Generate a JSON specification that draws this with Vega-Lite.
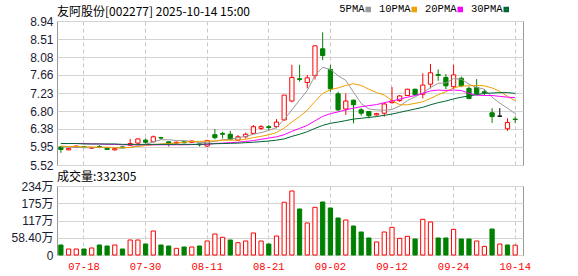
{
  "$schema": "https://vega.github.io/schema/vega-lite/v6.json",
  "background": "white",
  "padding": {"left": 10, "top": 4, "right": 0, "bottom": 0},
  "config": {
    "view": {"stroke": "#999999", "strokeWidth": 1},
    "axis": {"ticks": false, "domain": false, "title": null, "labelOverlap": false, "labelFont": "Liberation Sans, Noto Sans CJK SC", "labelFontSize": 12, "labelColor": "#1a1a33", "gridColor": "#d4d4d4"},
    "concat": {"spacing": -2},
    "title": {"anchor": "start", "frame": "group", "font": "Noto Sans CJK SC", "fontSize": 12, "fontWeight": "normal", "color": "#000000"}
  },
  "datasets": {
    "k": [
      {"date":"07-15","open":5.95,"high":5.96,"low":5.81,"close":5.89,"vol":33.9,"vd":"down","5PMA":5.95,"10PMA":5.97,"20PMA":6.03,"30PMA":6.03},
      {"date":"07-16","open":5.88,"high":5.92,"low":5.87,"close":5.91,"vol":20.3,"vd":"up","5PMA":5.94,"10PMA":5.96,"20PMA":6.03,"30PMA":6.03},
      {"date":"07-17","open":5.94,"high":5.98,"low":5.93,"close":5.97,"vol":20.3,"vd":"up","5PMA":5.94,"10PMA":5.96,"20PMA":6.03,"30PMA":6.03},
      {"date":"07-18","open":5.96,"high":5.97,"low":5.93,"close":5.95,"vol":20.3,"vd":"down","5PMA":5.93,"10PMA":5.95,"20PMA":6.03,"30PMA":6.02},
      {"date":"07-21","open":5.92,"high":5.95,"low":5.90,"close":5.93,"vol":23.7,"vd":"up","5PMA":5.93,"10PMA":5.95,"20PMA":6.02,"30PMA":6.02},
      {"date":"07-22","open":5.96,"high":5.99,"low":5.92,"close":5.95,"vol":33.9,"vd":"down","5PMA":5.94,"10PMA":5.94,"20PMA":6.02,"30PMA":6.02},
      {"date":"07-23","open":5.92,"high":5.93,"low":5.88,"close":5.89,"vol":30.5,"vd":"down","5PMA":5.94,"10PMA":5.94,"20PMA":6.01,"30PMA":6.02},
      {"date":"07-24","open":5.88,"high":5.92,"low":5.86,"close":5.91,"vol":33.9,"vd":"up","5PMA":5.93,"10PMA":5.93,"20PMA":6.01,"30PMA":6.02},
      {"date":"07-25","open":5.95,"high":5.96,"low":5.92,"close":5.93,"vol":20.3,"vd":"down","5PMA":5.92,"10PMA":5.93,"20PMA":6.00,"30PMA":6.01},
      {"date":"07-28","open":5.99,"high":6.14,"low":5.98,"close":6.03,"vol":50.8,"vd":"up","5PMA":5.94,"10PMA":5.94,"20PMA":6.00,"30PMA":6.01},
      {"date":"07-29","open":6.04,"high":6.15,"low":6.02,"close":6.14,"vol":50.8,"vd":"up","5PMA":5.98,"10PMA":5.96,"20PMA":6.00,"30PMA":6.01},
      {"date":"07-30","open":6.11,"high":6.15,"low":6.03,"close":6.06,"vol":37.2,"vd":"down","5PMA":6.01,"10PMA":5.98,"20PMA":6.00,"30PMA":6.01},
      {"date":"07-31","open":6.07,"high":6.22,"low":6.06,"close":6.19,"vol":81.3,"vd":"up","5PMA":6.07,"10PMA":6.00,"20PMA":6.00,"30PMA":6.01},
      {"date":"08-01","open":6.17,"high":6.19,"low":6.12,"close":6.16,"vol":33.9,"vd":"down","5PMA":6.12,"10PMA":6.02,"20PMA":6.00,"30PMA":6.01},
      {"date":"08-04","open":6.07,"high":6.08,"low":5.96,"close":6.04,"vol":30.5,"vd":"down","5PMA":6.12,"10PMA":6.03,"20PMA":6.00,"30PMA":6.01},
      {"date":"08-05","open":6.04,"high":6.08,"low":6.03,"close":6.06,"vol":22.6,"vd":"up","5PMA":6.10,"10PMA":6.04,"20PMA":6.00,"30PMA":6.01},
      {"date":"08-06","open":6.07,"high":6.08,"low":6.03,"close":6.05,"vol":27.1,"vd":"down","5PMA":6.10,"10PMA":6.06,"20PMA":6.00,"30PMA":6.01},
      {"date":"08-07","open":6.06,"high":6.10,"low":6.05,"close":6.09,"vol":27.1,"vd":"up","5PMA":6.08,"10PMA":6.08,"20PMA":6.005,"30PMA":6.01},
      {"date":"08-08","open":6.02,"high":6.03,"low":5.96,"close":6.00,"vol":30.5,"vd":"down","5PMA":6.05,"10PMA":6.08,"20PMA":6.01,"30PMA":6.01},
      {"date":"08-11","open":5.97,"high":6.12,"low":5.95,"close":6.10,"vol":47.4,"vd":"up","5PMA":6.06,"10PMA":6.09,"20PMA":6.01,"30PMA":6.02},
      {"date":"08-12","open":6.24,"high":6.375,"low":6.13,"close":6.17,"vol":71.1,"vd":"up","5PMA":6.08,"10PMA":6.09,"20PMA":6.03,"30PMA":6.025},
      {"date":"08-13","open":6.27,"high":6.31,"low":6.15,"close":6.25,"vol":59.9,"vd":"up","5PMA":6.12,"10PMA":6.11,"20PMA":6.04,"30PMA":6.03},
      {"date":"08-14","open":6.25,"high":6.33,"low":6.11,"close":6.13,"vol":50.8,"vd":"down","5PMA":6.13,"10PMA":6.11,"20PMA":6.05,"30PMA":6.035},
      {"date":"08-15","open":6.11,"high":6.23,"low":6.09,"close":6.19,"vol":41.7,"vd":"up","5PMA":6.17,"10PMA":6.11,"20PMA":6.06,"30PMA":6.04},
      {"date":"08-18","open":6.19,"high":6.29,"low":6.15,"close":6.25,"vol":47.4,"vd":"up","5PMA":6.20,"10PMA":6.13,"20PMA":6.08,"30PMA":6.05},
      {"date":"08-19","open":6.27,"high":6.47,"low":6.26,"close":6.43,"vol":74.5,"vd":"up","5PMA":6.25,"10PMA":6.17,"20PMA":6.10,"30PMA":6.06},
      {"date":"08-20","open":6.39,"high":6.47,"low":6.35,"close":6.43,"vol":47.4,"vd":"up","5PMA":6.29,"10PMA":6.20,"20PMA":6.13,"30PMA":6.075},
      {"date":"08-21","open":6.43,"high":6.47,"low":6.35,"close":6.41,"vol":37.2,"vd":"down","5PMA":6.34,"10PMA":6.24,"20PMA":6.16,"30PMA":6.09},
      {"date":"08-22","open":6.43,"high":6.61,"low":6.39,"close":6.54,"vol":64.3,"vd":"up","5PMA":6.41,"10PMA":6.29,"20PMA":6.19,"30PMA":6.11},
      {"date":"08-25","open":6.59,"high":7.18,"low":6.57,"close":7.18,"vol":178.4,"vd":"up","5PMA":6.60,"10PMA":6.40,"20PMA":6.24,"30PMA":6.14},
      {"date":"08-26","open":7.04,"high":7.90,"low":7.01,"close":7.60,"vol":216.7,"vd":"up","5PMA":6.83,"10PMA":6.54,"20PMA":6.32,"30PMA":6.20},
      {"date":"08-27","open":7.57,"high":7.90,"low":7.50,"close":7.55,"vol":155.8,"vd":"down","5PMA":7.06,"10PMA":6.67,"20PMA":6.39,"30PMA":6.25},
      {"date":"08-28","open":7.48,"high":7.66,"low":7.34,"close":7.59,"vol":108.4,"vd":"up","5PMA":7.29,"10PMA":6.82,"20PMA":6.46,"30PMA":6.31},
      {"date":"08-29","open":7.64,"high":8.35,"low":7.55,"close":8.35,"vol":161.4,"vd":"up","5PMA":7.65,"10PMA":7.03,"20PMA":6.57,"30PMA":6.39},
      {"date":"09-01","open":8.28,"high":8.67,"low":8.01,"close":8.12,"vol":179.5,"vd":"down","5PMA":7.84,"10PMA":7.22,"20PMA":6.675,"30PMA":6.46},
      {"date":"09-02","open":7.79,"high":7.90,"low":7.26,"close":7.33,"vol":159.1,"vd":"down","5PMA":7.79,"10PMA":7.31,"20PMA":6.74,"30PMA":6.51},
      {"date":"09-03","open":7.21,"high":7.26,"low":6.80,"close":6.83,"vol":125.3,"vd":"down","5PMA":7.64,"10PMA":7.35,"20PMA":6.78,"30PMA":6.54},
      {"date":"09-04","open":6.85,"high":7.22,"low":6.71,"close":7.04,"vol":118.5,"vd":"up","5PMA":7.53,"10PMA":7.41,"20PMA":6.83,"30PMA":6.575},
      {"date":"09-05","open":7.06,"high":7.07,"low":6.51,"close":6.95,"vol":98.2,"vd":"down","5PMA":7.25,"10PMA":7.45,"20PMA":6.87,"30PMA":6.61},
      {"date":"09-08","open":6.83,"high":6.87,"low":6.69,"close":6.75,"vol":77.9,"vd":"down","5PMA":6.98,"10PMA":7.41,"20PMA":6.905,"30PMA":6.63},
      {"date":"09-09","open":6.79,"high":6.80,"low":6.63,"close":6.69,"vol":57.6,"vd":"down","5PMA":6.85,"10PMA":7.32,"20PMA":6.93,"30PMA":6.65},
      {"date":"09-10","open":6.71,"high":6.76,"low":6.69,"close":6.74,"vol":44.0,"vd":"up","5PMA":6.83,"10PMA":7.24,"20PMA":6.955,"30PMA":6.67},
      {"date":"09-11","open":6.75,"high":7.00,"low":6.67,"close":6.97,"vol":77.9,"vd":"up","5PMA":6.82,"10PMA":7.18,"20PMA":7.00,"30PMA":6.70},
      {"date":"09-12","open":7.00,"high":7.37,"low":6.98,"close":7.04,"vol":93.7,"vd":"up","5PMA":6.84,"10PMA":7.05,"20PMA":7.04,"30PMA":6.73},
      {"date":"09-15","open":7.05,"high":7.18,"low":7.02,"close":7.16,"vol":56.4,"vd":"up","5PMA":6.92,"10PMA":6.95,"20PMA":7.085,"30PMA":6.77},
      {"date":"09-16","open":7.17,"high":7.33,"low":7.16,"close":7.32,"vol":63.2,"vd":"up","5PMA":7.05,"10PMA":6.95,"20PMA":7.13,"30PMA":6.81},
      {"date":"09-17","open":7.32,"high":7.33,"low":7.18,"close":7.19,"vol":54.2,"vd":"down","5PMA":7.14,"10PMA":6.985,"20PMA":7.17,"30PMA":6.85},
      {"date":"09-18","open":7.20,"high":7.70,"low":7.10,"close":7.42,"vol":120.8,"vd":"up","5PMA":7.23,"10PMA":7.02,"20PMA":7.22,"30PMA":6.89},
      {"date":"09-19","open":7.44,"high":7.92,"low":7.34,"close":7.71,"vol":111.7,"vd":"up","5PMA":7.36,"10PMA":7.10,"20PMA":7.28,"30PMA":6.95},
      {"date":"09-22","open":7.67,"high":7.79,"low":7.52,"close":7.65,"vol":57.6,"vd":"down","5PMA":7.46,"10PMA":7.19,"20PMA":7.30,"30PMA":7.00},
      {"date":"09-23","open":7.60,"high":7.68,"low":7.32,"close":7.40,"vol":57.6,"vd":"down","5PMA":7.47,"10PMA":7.26,"20PMA":7.29,"30PMA":7.04},
      {"date":"09-24","open":7.38,"high":7.90,"low":7.32,"close":7.66,"vol":86.9,"vd":"up","5PMA":7.57,"10PMA":7.35,"20PMA":7.30,"30PMA":7.09},
      {"date":"09-25","open":7.58,"high":7.62,"low":7.37,"close":7.40,"vol":54.2,"vd":"down","5PMA":7.56,"10PMA":7.395,"20PMA":7.29,"30PMA":7.13},
      {"date":"09-26","open":7.34,"high":7.38,"low":7.08,"close":7.10,"vol":54.2,"vd":"down","5PMA":7.44,"10PMA":7.40,"20PMA":7.22,"30PMA":7.16},
      {"date":"09-29","open":7.36,"high":7.56,"low":7.18,"close":7.22,"vol":47.4,"vd":"up","5PMA":7.36,"10PMA":7.41,"20PMA":7.18,"30PMA":7.19},
      {"date":"09-30","open":7.26,"high":7.32,"low":7.18,"close":7.24,"vol":29.3,"vd":"up","5PMA":7.32,"10PMA":7.40,"20PMA":7.17,"30PMA":7.22},
      {"date":"10-09","open":6.76,"high":6.87,"low":6.52,"close":6.67,"vol":88.0,"vd":"down","5PMA":7.13,"10PMA":7.35,"20PMA":7.17,"30PMA":7.23},
      {"date":"10-10","open":6.68,"high":6.87,"low":6.68,"close":6.68,"vol":37.2,"vd":"up","5PMA":6.99,"10PMA":7.27,"20PMA":7.15,"30PMA":7.24},
      {"date":"10-13","open":6.38,"high":6.63,"low":6.33,"close":6.53,"vol":33.9,"vd":"down","5PMA":6.87,"10PMA":7.15,"20PMA":7.13,"30PMA":7.24},
      {"date":"10-14","open":6.61,"high":6.67,"low":6.52,"close":6.60,"vol":33.23,"vd":"up","5PMA":6.74,"10PMA":7.05,"20PMA":7.12,"30PMA":7.22}
    ]
  },
  "vconcat": [
    {
      "width": 466,
      "height": 144,
      "title": {"text": "友阿股份[002277] 2025-10-14 15:00", "offset": -4},
      "data": {"name": "k"},
      "encoding": {
        "x": {
          "field": "date", "type": "ordinal", "sort": null,
          "scale": {"type": "band", "paddingInner": 0.45, "paddingOuter": 0.485, "align": 0.237},
          "axis": {"values": ["07-18","07-30","08-11","08-21","09-02","09-12","09-24","10-14"], "labels": false, "grid": true, "gridDash": [4,3], "gridColor": "#c8c8c8", "bandPosition": 0.5}
        }
      },
      "layer": [
        {
          "mark": {"type": "rule", "strokeWidth": 1},
          "encoding": {
            "y": {"field": "low", "type": "quantitative", "scale": {"domain": [5.52, 8.94], "nice": false, "zero": false},
                  "axis": {"values": [5.52, 5.95, 6.38, 6.80, 7.23, 7.66, 8.08, 8.51, 8.94], "format": ".2f", "labelPadding": 4, "labelOverlap": false, "labelSeparation": 0, "labelBound": false}},
            "y2": {"field": "high"},
            "color": {"condition": [{"test": "datum.close > datum.open", "value": "#ff0000"}, {"test": "datum.close < datum.open", "value": "#008000"}], "value": "#000000"}
          }
        },
        {
          "mark": {"type": "bar", "strokeWidth": 1},
          "encoding": {
            "y": {"field": "open", "type": "quantitative", "axis": {"values": [5.52, 5.95, 6.38, 6.80, 7.23, 7.66, 8.08, 8.51, 8.94], "format": ".2f", "labelPadding": 4, "labelOverlap": false}},
            "y2": {"field": "close"},
            "fill": {"condition": [{"test": "datum.close > datum.open", "value": "#ffffff"}, {"test": "datum.close < datum.open", "value": "#008000"}], "value": "#000000"},
            "stroke": {"condition": [{"test": "datum.close > datum.open", "value": "#ff0000"}, {"test": "datum.close < datum.open", "value": "#008000"}], "value": "#000000"}
          }
        },
        {
          "transform": [{"fold": ["5PMA", "10PMA", "20PMA", "30PMA"], "as": ["ma", "value"]}],
          "mark": {"type": "line", "strokeWidth": 1},
          "encoding": {
            "y": {"field": "value", "type": "quantitative", "axis": {"values": [5.52, 5.95, 6.38, 6.80, 7.23, 7.66, 8.08, 8.51, 8.94], "format": ".2f", "labelPadding": 4, "labelOverlap": false}},
            "color": {
              "field": "ma", "type": "nominal",
              "scale": {"domain": ["5PMA", "10PMA", "20PMA", "30PMA"], "range": ["#999999", "#f0a000", "#ff00ff", "#006633"]},
              "legend": {"orient": "none", "legendX": 306, "legendY": -17, "direction": "horizontal", "title": null,
                         "symbolType": "square", "symbolSize": 9, "symbolStrokeWidth": 2.5,
                         "labelFont": "Liberation Mono", "labelFontSize": 10.5, "labelColor": "#000000",
                         "labelAlign": "right", "labelOffset": -9, "columnPadding": 3}
            }
          }
        }
      ]
    },
    {
      "width": 466,
      "height": 69,
      "title": {"text": "成交量:332305", "offset": -4},
      "data": {"name": "k"},
      "mark": {"type": "bar", "strokeWidth": 1},
      "encoding": {
        "x": {
          "field": "date", "type": "ordinal", "sort": null,
          "scale": {"type": "band", "paddingInner": 0.45, "paddingOuter": 0.485, "align": 0.237},
          "axis": {"values": ["07-18","07-30","08-11","08-21","09-02","09-12","09-24","10-14"], "labels": true, "grid": true, "gridDash": [4,3], "gridColor": "#c8c8c8", "bandPosition": 0.5,
                   "labelFont": "Liberation Mono", "labelFontSize": 10.5, "labelColor": "#ff0000", "labelPadding": 6, "labelAngle": 0}
        },
        "y": {"field": "vol", "type": "quantitative", "scale": {"domain": [0, 233.6], "nice": false},
              "axis": {"values": [0, 58.4, 116.8, 175.2, 233.6], "labelPadding": 4,
                       "labelExpr": "datum.value == 0 ? '0' : (datum.value < 100 ? format(datum.value, '.2f') + '万' : format(datum.value, '.0f') + '万')"}},
        "fill": {"condition": {"test": "datum.vd == 'up'", "value": "#ffffff"}, "value": "#008000"},
        "stroke": {"condition": {"test": "datum.vd == 'up'", "value": "#ff0000"}, "value": "#008000"}
      }
    }
  ]
}
